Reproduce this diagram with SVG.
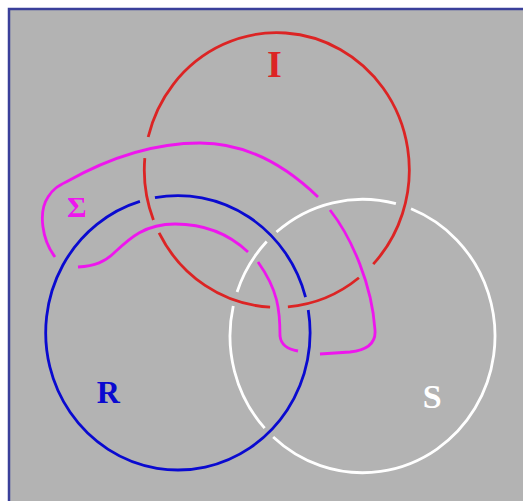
<svg xmlns="http://www.w3.org/2000/svg" width="523" height="501" viewBox="0 0 523 501">
<style>
.ring{fill:none;stroke-width:2.8;stroke-linecap:butt}
.red{stroke:#dc2424}
.blue{stroke:#0a0ad0}
.white{stroke:#ffffff}
.mag{stroke:#ee16ee}
.lbl{font-family:"Liberation Serif","Times New Roman",serif;font-weight:bold;text-anchor:middle}
</style>
<rect x="0" y="0" width="523" height="501" fill="#ffffff"/>
<rect x="9" y="9" width="530" height="510" fill="#b3b3b3" stroke="#3a409a" stroke-width="2.5"/>
<g id="ring-S">
<path class="ring white" d="M411.06,208.81 A132.5,136.7 0 1 1 273.16,436.95 M264.65,428.18 A132.5,136.7 0 0 1 233.25,305.95 M237.08,291.94 A132.5,136.7 0 0 1 266.70,241.56 M276.45,232.05 A132.5,136.7 0 0 1 395.90,203.72"/>
<text class="lbl" x="432.2" y="407.5" font-size="34" fill="#ffffff">S</text>
</g>
<g id="ring-R">
<path class="ring blue" d="M154.95,197.69 A132.2,137.2 0 0 1 305.54,297.06 M308.25,309.92 A132.2,137.2 0 1 1 139.91,201.39"/>
<text class="lbl" x="108.3" y="403.3" font-size="32" fill="#0a0ad0">R</text>
</g>
<g id="ring-I">
<path class="ring red" d="M148.18,137.02 A132.5,137.3 0 1 1 373.23,264.16 M358.92,277.75 A132.5,137.3 0 0 1 287.89,306.82 M270.10,307.12 A132.5,137.3 0 0 1 159.06,232.98 M153.43,220.10 A132.5,137.3 0 0 1 144.81,158.03"/>
<text class="lbl" x="274.5" y="77.3" font-size="38" fill="#dc2424">I</text>
</g>
<g id="band-Sigma">
<path class="ring mag" d="M55,257 C42,240 38,212 48,197 C53,189 58,186 66,182 C105,160 150,143 200,143 C245,143 285,165 318,197"/>
<path class="ring mag" d="M330,210 C352,238 372,285 375,330 C376,342 368,350 350,352 L320,354"/>
<path class="ring mag" d="M298,351 C287,349 281,345 280,336 C280,310 278,290 258,262"/>
<path class="ring mag" d="M248,252 C230,235 205,224 175,224 C145,224 130,238 115,252 C105,262 95,266 78,267"/>
<text class="lbl" x="76.7" y="216.7" font-size="30" fill="#ee16ee">Σ</text>
</g>
</svg>
